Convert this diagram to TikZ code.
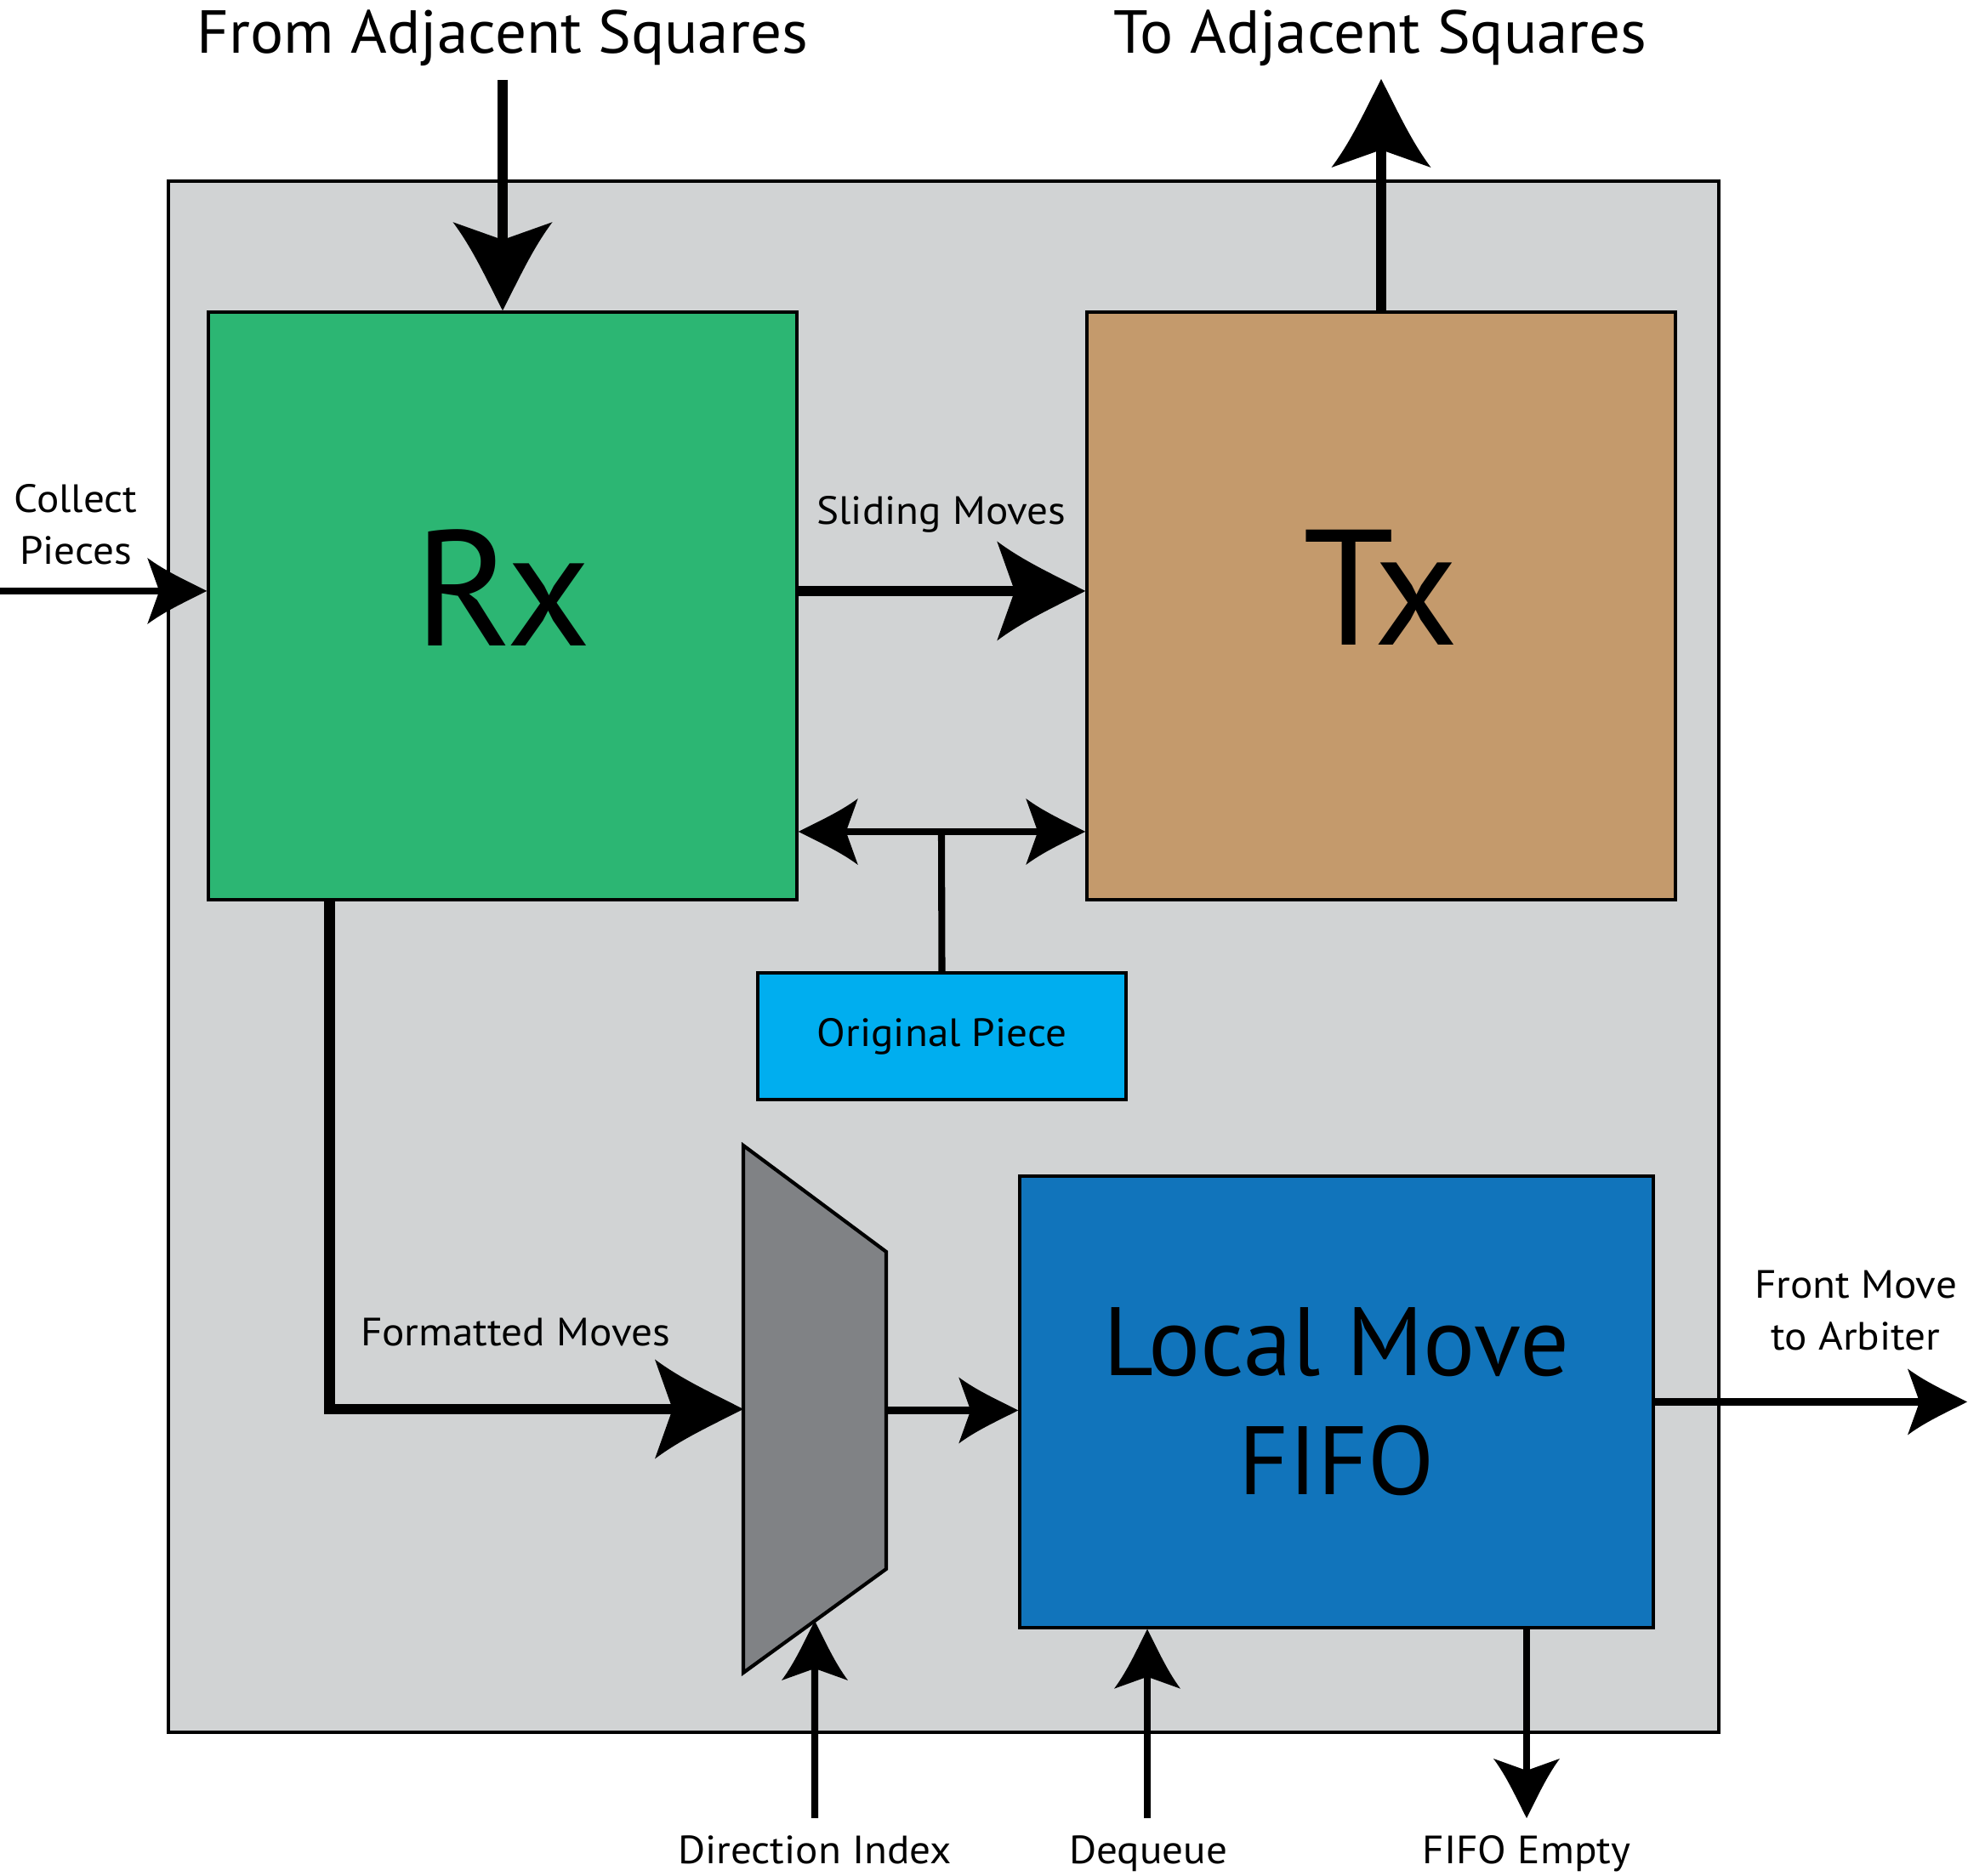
\documentclass[tikz,border=0pt]{standalone}
\usepackage{fontspec}
\setmainfont{PT Sans}
\newfontfamily\lblfont[FakeStretch=1.06]{PT Sans}
\newfontfamily\titlefont[FakeStretch=1.025]{PT Sans}
\usetikzlibrary{arrows.meta, calc, positioning}

\definecolor{tilegrey}{RGB}{209,211,212}
\definecolor{rxgreen}{RGB}{44,182,115}
\definecolor{txtan}{RGB}{196,154,108}
\definecolor{origcyan}{RGB}{0,174,239}
\definecolor{fifoblue}{RGB}{17,116,187}
\definecolor{muxgrey}{RGB}{128,130,133}

% swept arrow head with slightly hollow sides
\pgfdeclarearrow{
  name = Swept,
  parameters = {\the\pgfarrowlength,\the\pgfarrowwidth},
  setup code = {
    \pgfarrowssettipend{0pt}
    \pgfarrowssetbackend{-\pgfarrowlength}
    \pgfarrowssetlineend{-0.7\pgfarrowlength}
    \pgfarrowssavethe\pgfarrowlength
    \pgfarrowssavethe\pgfarrowwidth
  },
  drawing code = {
    \pgfpathmoveto{\pgfqpoint{0pt}{0pt}}
    \pgfpathcurveto{\pgfqpoint{-0.35\pgfarrowlength}{0.16\pgfarrowwidth}}{\pgfqpoint{-0.7\pgfarrowlength}{0.3\pgfarrowwidth}}{\pgfqpoint{-\pgfarrowlength}{0.5\pgfarrowwidth}}
    \pgfpathlineto{\pgfqpoint{-0.8\pgfarrowlength}{0pt}}
    \pgfpathlineto{\pgfqpoint{-\pgfarrowlength}{-0.5\pgfarrowwidth}}
    \pgfpathcurveto{\pgfqpoint{-0.7\pgfarrowlength}{-0.3\pgfarrowwidth}}{\pgfqpoint{-0.35\pgfarrowlength}{-0.16\pgfarrowwidth}}{\pgfqpoint{0pt}{0pt}}
    \pgfpathclose
    \pgfusepathqfill
  },
  defaults = {length=7mm, width=7.8mm}
}

\begin{document}
\begin{tikzpicture}[
    box/.style={draw, line width=1pt, inner sep=0pt},
    bigarrow/.style={line width=3.6pt, -{Swept[length=1.04cm, width=1.17cm]}},
    smallarrow/.style={line width=2.3pt, -{Swept[length=0.7cm, width=0.78cm]}},
    dblarrow/.style={line width=2.3pt, {Swept[length=0.7cm, width=0.78cm]}-{Swept[length=0.7cm, width=0.78cm]}},
    lbl/.style={font=\lblfont\fontsize{13.2}{17.4}\selectfont, inner sep=0pt, align=center},
    title/.style={font=\titlefont\fontsize{20.3}{24}\selectfont, inner sep=0pt},
    unitname/.style={font=\fontsize{55}{60}\selectfont, text depth=0.43cm},
]
    \useasboundingbox (0,0) rectangle (23.14,22.06);

    % Tile background
    \node[box, fill=tilegrey, line width=1.2pt, minimum width=18.23cm, minimum height=18.24cm] (tile) at (11.095,10.81) {};

    % Blocks
    \node[box, fill=rxgreen, minimum width=6.92cm, minimum height=6.91cm, unitname] (rx) at (5.91,14.935) {Rx};
    \node[box, fill=txtan, minimum width=6.92cm, minimum height=6.91cm, unitname] (tx) at (16.24,14.935) {Tx};
    \node[box, fill=origcyan, minimum width=4.33cm, minimum height=1.49cm, lbl] (orig) at (11.075,9.875) {Original Piece};
    \node[box, fill=fifoblue, minimum width=7.45cm, minimum height=5.31cm, align=center,
          font=\fontsize{32.5}{39.8}\selectfont] (fifo) at (15.715,5.575) {Local Move\\FIFO};

    % Mux
    \coordinate (mux-tl) at (8.74,8.59);
    \coordinate (mux-tr) at (10.42,7.34);
    \coordinate (mux-br) at (10.42,3.61);
    \coordinate (mux-bl) at (8.74,2.39);
    \draw[fill=muxgrey, line width=1.2pt] (mux-tl) -- (mux-tr) -- (mux-br) -- (mux-bl) -- cycle;
    \coordinate (mux-in) at ($(mux-tl)!0.5!(mux-bl)$);
    \coordinate (mux-out) at ($(mux-tr)!0.5!(mux-br)$);
    \coordinate (mux-sel) at ($(mux-bl)!0.5!(mux-br)$);

    % Free ends
    \coordinate (from-sq) at (5.91,21.12);
    \coordinate (to-sq) at (16.24,21.13);
    \coordinate (collect) at (0,15.11);
    \coordinate (front-out) at (23.13,5.575);
    \coordinate (dir-in) at (9.58,0.68);
    \coordinate (deq-in) at (13.49,0.68);
    \coordinate (empty-out) at (17.95,0.68);
    \coordinate (tee) at (11.07,12.28);

    % Connectors
    \draw[bigarrow] (from-sq) -- (rx.north);
    \draw[bigarrow] (tx.north) -- (to-sq);
    \draw[smallarrow] (collect) -- (collect -| rx.west);
    \draw[bigarrow] (collect -| rx.east) -- (collect -| tx.west);
    \draw[dblarrow] (tee -| rx.east) -- (tee -| tx.west);
    \draw[line width=2.3pt] (tee) -- (orig.north);
    \draw[bigarrow] ([xshift=1.44cm]rx.south west) |- (mux-in);
    \draw[smallarrow] (mux-out) -- (mux-out -| fifo.west);
    \draw[smallarrow] (fifo.east) -- (front-out);
    \draw[smallarrow] (dir-in) -- (mux-sel);
    \draw[smallarrow] (deq-in) -- (deq-in |- fifo.south);
    \draw[smallarrow] (fifo.south -| empty-out) -- (empty-out);

    % Labels
    \node[title, anchor=base] (from-lbl) at (5.91,21.43) {From Adjacent Squares};
    \node[title, anchor=base] (to-lbl) at (16.23,21.43) {To Adjacent Squares};
    \node[lbl] (collect-lbl) at (0.89,15.89) {Collect\\Pieces};
    \node[lbl, anchor=base] (slide-lbl) at (11.07,15.89) {Sliding Moves};
    \node[lbl, anchor=base] (fmt-lbl) at (6.06,6.23) {Formatted Moves};
    \node[lbl] (front-lbl) at (21.82,6.65) {Front Move\\to Arbiter};
    \node[lbl, anchor=base] (dir-lbl) at (9.58,0.14) {Direction Index};
    \node[lbl, anchor=base] (deq-lbl) at (13.50,0.14) {Dequeue};
    \node[lbl, anchor=base] (empty-lbl) at (17.95,0.14) {FIFO Empty};
\end{tikzpicture}
\end{document}
